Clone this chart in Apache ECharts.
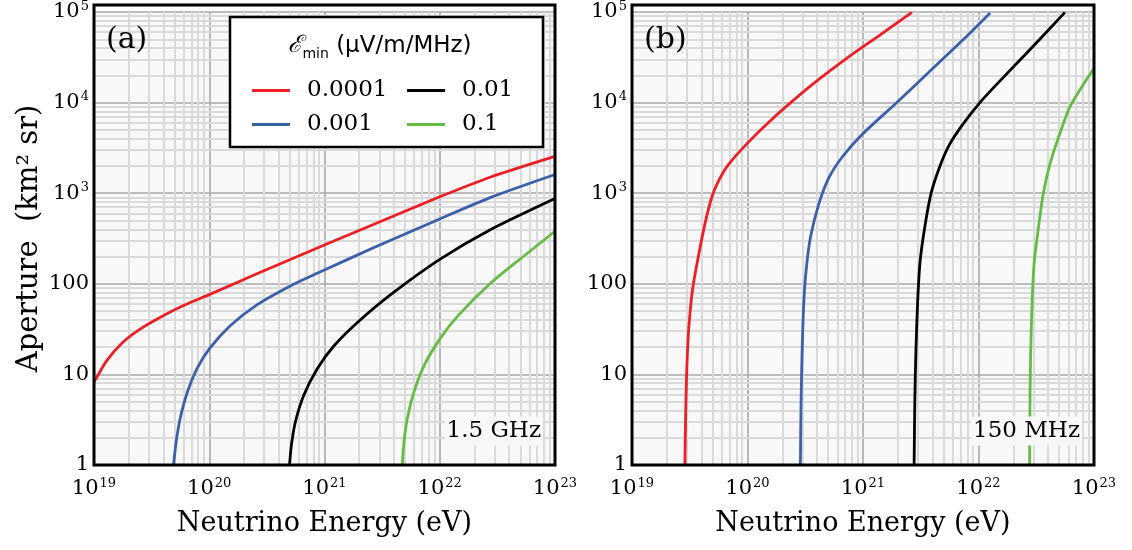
<!DOCTYPE html>
<html>
<head>
<meta charset="utf-8">
<script src="https://cdn.jsdelivr.net/npm/echarts@6/dist/echarts.min.js"></script>
<style>
  html, body { margin: 0; padding: 0; background: #ffffff; }
  #chart { width: 1132px; height: 550px; }
</style>
</head>
<body>
<div id="chart"></div>
<script>
// Threshold field strengths (µV/m/MHz), one curve each
const seriesNames = ['0.0001', '0.001', '0.01', '0.1'];
const seriesColors = ['#ec1f26', '#3d5ea9', '#000000', '#66bb47'];

// Panel (a), 1.5 GHz: [neutrino energy (eV), aperture (km² sr)]
const apertureGHz_0001 = [[1.0e19, 8.3], [1.02e19, 8.6], [1.29e19, 14.2], [1.80e19, 22.9], [2.51e19, 31.6],
  [3.51e19, 40.7], [5.98e19, 57.5], [1e20, 75.9], [2.59e20, 129], [9.86e20, 266], [3.75e21, 543],
  [1e22, 912], [2.77e22, 1510], [1e23, 2550]];
const apertureGHz_001 = [[4.90e19, 1], [5.17e19, 1.83], [5.60e19, 3.28], [6.40e19, 6.15], [7.81e19, 11.5],
  [1e20, 19.1], [1.52e20, 34.4], [2.59e20, 58.5], [5.06e20, 94.6], [9.86e20, 141], [2.69e21, 251],
  [1e22, 520], [2.77e22, 900], [1e23, 1610]];
const apertureGHz_01 = [[4.97e20, 1], [5.17e20, 1.68], [5.60e20, 3.02], [6.61e20, 5.9], [8.63e20, 11.5],
  [1.21e21, 20.7], [1.92e21, 37.2], [3.75e21, 75.9], [1e22, 186], [2.77e22, 398], [1e23, 875]];
const apertureGHz_1 = [[4.73e21, 1], [4.90e21, 1.83], [5.24e21, 3.28], [5.98e21, 6.41], [7.31e21, 12.5],
  [1e22, 24.5], [1.43e22, 44], [2.77e22, 102], [5.41e22, 204], [1e23, 380]];

// Panel (b), 150 MHz
const apertureMHz_0001 = [[2.87e19, 1], [2.91e19, 3.28], [2.97e19, 9.75], [3.07e19, 26.6], [3.24e19, 61.5],
  [3.39e19, 97.5], [3.75e19, 199], [4.28e19, 459], [4.90e19, 897], [5.60e19, 1360], [6.84e19, 2070],
  [1e20, 3570], [1.52e20, 6030], [2.13e20, 8910], [3.63e20, 15800], [7.07e20, 30200], [1.38e21, 55000],
  [2.65e21, 99100]];
const apertureMHz_001 = [[2.87e20, 1], [2.91e20, 4.99], [2.97e20, 17.5], [3.07e20, 61.5], [3.22e20, 142],
  [3.51e20, 328], [4.14e20, 759], [5.06e20, 1480], [6.61e20, 2510], [9.86e20, 4470], [1.92e21, 9770],
  [3.75e21, 21900], [7.31e21, 49000], [1.26e22, 97700]];
const apertureMHz_01 = [[2.77e21, 1], [2.81e21, 4.99], [2.87e21, 17.5], [2.97e21, 61.5], [3.11e21, 168],
  [3.39e21, 388], [3.87e21, 975], [4.58e21, 1910], [5.60e21, 3430], [7.31e21, 5750], [1.02e22, 9890],
  [1.43e22, 15800], [2.77e22, 38000], [5.60e22, 99100]];
const apertureMHz_1 = [[2.77e22, 1], [2.79e22, 4.99], [2.83e22, 17.5], [2.91e22, 61.5], [3.03e22, 168],
  [3.28e22, 388], [3.63e22, 975], [4.14e22, 2070], [4.90e22, 4050], [6.18e22, 8970], [7.81e22, 14800],
  [1e23, 24000]];

const panelData = [
  [apertureGHz_0001, apertureGHz_001, apertureGHz_01, apertureGHz_1],
  [apertureMHz_0001, apertureMHz_001, apertureMHz_01, apertureMHz_1]
];
const panelTags = ['(a)', '(b)'];
const panelBands = ['1.5 GHz', '150 MHz'];

// Axis ranges (decades)
const energyMinExp = 19, energyMaxExp = 23;
const apertureMinExp = 0, apertureMaxExp = 5;

// Plot boxes in pixels
const boxes = [
  { left: 94, top: 5, width: 461, height: 460 },
  { left: 632, top: 5, width: 462, height: 460 }
];

const SERIF = '"DejaVu Serif", serif';
const SANS = '"DejaVu Sans", "Liberation Sans", sans-serif';
const PLOT_BG = '#f8f8f8';

// 2..9 subdivisions of each decade for the fine grid
function minorValues(lo, hi) {
  const out = [];
  for (let d = lo; d < hi; d++) {
    for (let m = 2; m <= 9; m++) out.push(m * Math.pow(10, d));
  }
  return out;
}
const xMinor = minorValues(energyMinExp, energyMaxExp);
const yMinor = minorValues(apertureMinExp, apertureMaxExp);
const xLo = Math.pow(10, energyMinExp), xHi = Math.pow(10, energyMaxExp);
const yLo = Math.pow(10, apertureMinExp), yHi = Math.pow(10, apertureMaxExp);

const powRich = {
  b: { fontFamily: SERIF, fontSize: 21, color: '#000', lineHeight: 24, verticalAlign: 'middle' },
  s: { fontFamily: SERIF, fontSize: 13, color: '#000', lineHeight: 14, verticalAlign: 'top', padding: [0, 0, 0, 1] }
};

function powLabel(v) {
  const e = Math.round(Math.log10(v));
  return '{b|10}{s|' + e + '}';
}

const grids = boxes.map(b => ({
  left: b.left, top: b.top, width: b.width, height: b.height,
  show: true, backgroundColor: PLOT_BG, borderWidth: 0
}));

const xAxes = boxes.map((b, i) => ({
  type: 'log', logBase: 10, gridIndex: i, min: xLo, max: xHi,
  name: 'Neutrino Energy (eV)', nameLocation: 'middle', nameGap: 45,
  nameTextStyle: { fontFamily: SERIF, fontSize: 27, color: '#000' },
  axisLine: { show: false }, axisTick: { show: false },
  axisLabel: { margin: 12, formatter: powLabel, rich: powRich, showMinLabel: true, showMaxLabel: true },
  splitLine: { show: true, lineStyle: { color: '#a8a8a8', width: 1.6 } }
}));

const yAxes = boxes.map((b, i) => ({
  type: 'log', logBase: 10, gridIndex: i, min: yLo, max: yHi,
  name: i === 0 ? 'Aperture  (km² sr)' : '', nameLocation: 'middle', nameGap: 50,
  nameTextStyle: { fontFamily: SERIF, fontSize: 29, color: '#000' },
  axisLine: { show: false }, axisTick: { show: false },
  axisLabel: {
    margin: 5,
    formatter: v => (v >= 1000 ? powLabel(v) : '{b|' + Math.round(v) + '}'),
    rich: powRich, showMinLabel: true, showMaxLabel: true
  },
  splitLine: { show: true, lineStyle: { color: '#a8a8a8', width: 1.6 } }
}));

const series = [];
boxes.forEach((b, i) => {
  // fine grid lines at 2..9 of each decade
  const fine = xMinor.map(v => ({ coords: [[v, yLo], [v, yHi]] }))
    .concat(yMinor.map(v => ({ coords: [[xLo, v], [xHi, v]] })));
  series.push({
    type: 'lines', coordinateSystem: 'cartesian2d', xAxisIndex: i, yAxisIndex: i,
    data: fine, silent: true, z: 1, polyline: false,
    lineStyle: { color: '#dadada', width: 2, opacity: 1, type: 'solid' },
    emphasis: { disabled: true }
  });
  panelData[i].forEach((pts, k) => {
    series.push({
      name: seriesNames[k], type: 'line', xAxisIndex: i, yAxisIndex: i,
      data: pts, showSymbol: false, symbol: 'none', smooth: 0.25, z: 3,
      lineStyle: { color: seriesColors[k], width: 2.8 }, itemStyle: { color: seriesColors[k] },
      emphasis: { disabled: true }
    });
  });
});

const legendText = { fontFamily: SERIF, fontSize: 23, color: '#000', lineHeight: 22, padding: [0, 0, 0, 12] };
const legends = [
  { data: [seriesNames[0], seriesNames[1]], left: 247 },
  { data: [seriesNames[2], seriesNames[3]], left: 402 }
].map(l => ({
  data: l.data, left: l.left, top: 74, orient: 'vertical', itemGap: 11,
  icon: 'rect', itemWidth: 38, itemHeight: 3, selectedMode: false,
  textStyle: legendText, z: 6
}));

const graphics = [
  // legend box and its heading
  { type: 'rect', z: 5, silent: true,
    shape: { x: 230, y: 17, width: 313, height: 130 },
    style: { fill: '#ffffff', stroke: '#000000', lineWidth: 2.5 } },
  { type: 'text', z: 6, silent: true,
    style: {
      x: 380, y: 46, textAlign: 'center', textVerticalAlign: 'middle', align: 'center', verticalAlign: 'middle',
      text: '{e|ℰ}{m|min}{u| (μV/m/MHz)}',
      rich: {
        e: { fontFamily: SERIF, fontStyle: 'italic', fontSize: 24, fill: '#000', lineHeight: 30, verticalAlign: 'middle' },
        m: { fontFamily: SANS, fontSize: 14, fill: '#000', lineHeight: 14, verticalAlign: 'bottom' },
        u: { fontFamily: SANS, fontSize: 23, fill: '#000', lineHeight: 30, verticalAlign: 'middle' }
      }
    } }
];
boxes.forEach((b, i) => {
  graphics.push({ type: 'text', z: 6, silent: true,
    style: { x: b.left + 12, y: b.top + 35, text: panelTags[i], font: '30px ' + SERIF, fill: '#000',
      textVerticalAlign: 'middle', verticalAlign: 'middle' } });
  graphics.push({ type: 'text', z: 6, silent: true,
    style: { x: b.left + b.width - 12, y: b.top + 426, text: panelBands[i], font: '23px ' + SERIF, fill: '#000',
      textAlign: 'right', align: 'right', textVerticalAlign: 'middle', verticalAlign: 'middle',
      backgroundColor: PLOT_BG, padding: [3, 2, 3, 2] } });
  // plot frame
  graphics.push({ type: 'rect', z: 10, silent: true,
    shape: { x: b.left, y: b.top, width: b.width, height: b.height },
    style: { fill: 'none', stroke: '#000', lineWidth: 3 } });
});

const chart = echarts.init(document.getElementById('chart'), null, { renderer: 'canvas' });
chart.setOption({
  animation: false,
  backgroundColor: '#ffffff',
  grid: grids,
  xAxis: xAxes,
  yAxis: yAxes,
  legend: legends,
  series: series,
  graphic: graphics
});
</script>
</body>
</html>
